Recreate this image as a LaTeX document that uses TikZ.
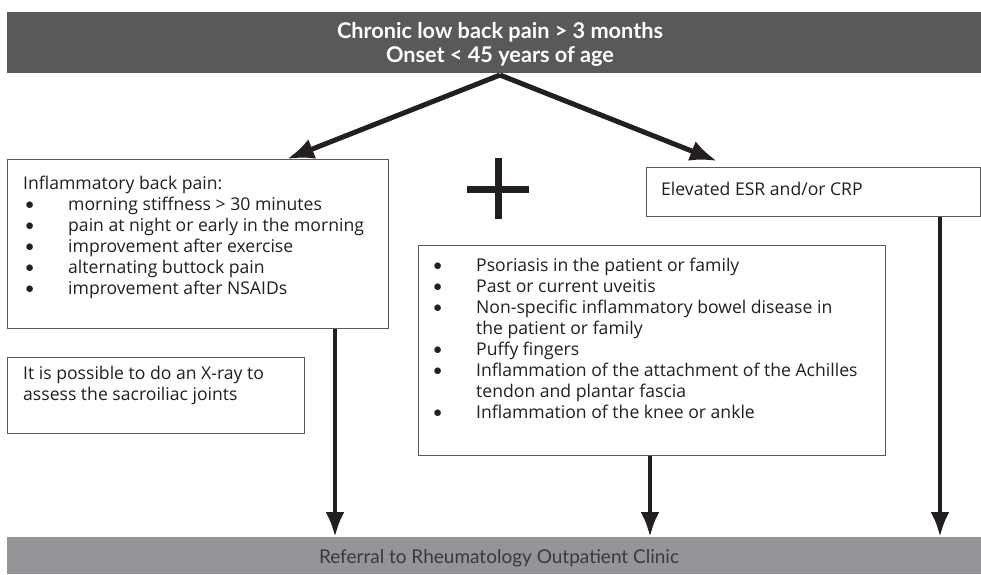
\documentclass[tikz,border=0pt]{standalone}
\usepackage{fontspec}
\setmainfont{Open Sans}
\newfontfamily\condfont{Lato}
\newfontfamily\titlefont{Lato}
\usetikzlibrary{arrows.meta,calc}
\definecolor{topgray}{HTML}{58595B}
\definecolor{botgray}{HTML}{939598}
\definecolor{ink}{HTML}{231F20}
\definecolor{edgegray}{HTML}{58595B}
\definecolor{bottxt}{HTML}{3A3A3C}
\newcommand{\bitem}[1]{\makebox[45pt][l]{\hspace{1.5pt}{\condfont\textbullet}}#1}
\newcommand{\bcont}[1]{\makebox[45pt][l]{}#1}
\tikzset{
  bar/.style={inner sep=0pt, anchor=north west},
  boxnode/.style={draw=edgegray, line width=1.2pt, fill=white, inner sep=0pt, anchor=north west},
  bodytext/.style={inner sep=0pt, align=left, anchor=north west, text=ink,
    font=\fontsize{17.6}{21}\selectfont},
  bigarrow/.style={draw=ink, line width=5pt, -{Latex[length=27pt,width=21pt]}},
  varrow/.style={draw=ink, line width=4.5pt, -{Latex[length=25pt,width=19pt]}},
}
\begin{document}
\begin{tikzpicture}[x=1pt,y=-1pt]
\useasboundingbox (0,0) rectangle (981,574);
% top bar
\node[bar, fill=topgray, minimum width=974pt, minimum height=61pt] (top) at (7,12) {};
\node[inner sep=0pt, anchor=north, align=center, text=white,
  font=\titlefont\bfseries\fontsize{21.7}{24}\selectfont] (toptxt) at (500,21.2)
  {\strut Chronic low back pain > 3 months\\Onset < 45 years of age};
\coordinate (apex) at (500,75);
% bottom bar
\node[bar, fill=botgray, minimum width=974pt, minimum height=37pt] (bot) at (7,537) {};
\node[inner sep=0pt, anchor=base, text=bottxt,
  font=\condfont\fontsize{19}{22}\selectfont] (bottxtnode) at (499,563)
  {Referral to Rheumatology Outpatient Clinic};
% boxes
\node[boxnode, minimum width=381pt, minimum height=169pt] (lbox) at (7,159) {};
\node[bodytext] (ltxt) at (23,174.3) {\strut Inflammatory back pain:\\
  \bitem{morning stiffness > 30 minutes}\\
  \bitem{pain at night or early in the morning}\\
  \bitem{improvement after exercise}\\
  \bitem{alternating buttock pain}\\
  \bitem{improvement after NSAIDs}};
\node[boxnode, minimum width=297pt, minimum height=76pt] (xbox) at (7,357) {};
\node[bodytext] (xtxt) at (23,364.3) {\strut It is possible to do an X-ray to\\assess the sacroiliac joints};
\node[boxnode, minimum width=334pt, minimum height=49pt] (rbox) at (646,167) {};
\node[inner sep=0pt, anchor=base west, text=ink, font=\fontsize{17.6}{21}\selectfont] (rtxt) at (661,195) {Elevated ESR and/or CRP};
\node[boxnode, minimum width=467pt, minimum height=210pt] (mbox) at (418,245) {};
\node[bodytext] (mtxt) at (431,256.3) {\strut\bitem{Psoriasis in the patient or family}\\
  \bitem{Past or current uveitis}\\
  \bitem{Non-specific inflammatory bowel disease in}\\
  \bcont{the patient or family}\\
  \bitem{Puffy fingers}\\
  \bitem{Inflammation of the attachment of the Achilles}\\
  \bcont{tendon and plantar fascia}\\
  \bitem{Inflammation of the knee or ankle}};
% plus sign
\draw[ink, line width=7pt] (498,158) -- (498,219);
\draw[ink, line width=7pt] (467,189) -- (529,189);
% arrows
\draw[bigarrow] (apex) -- ([xshift=280pt]lbox.north west);
\draw[bigarrow] (apex) -- ([xshift=71pt,yshift=6pt]rbox.north west);
\draw[varrow] ([xshift=328pt]lbox.south west) -- ([xshift=328pt]lbox.south west |- bot.north);
\draw[varrow] ([xshift=232pt]mbox.south west) -- ([xshift=232pt]mbox.south west |- bot.north);
\draw[varrow] ([xshift=294pt]rbox.south west) -- ([xshift=294pt]rbox.south west |- bot.north);
\end{tikzpicture}
\end{document}
